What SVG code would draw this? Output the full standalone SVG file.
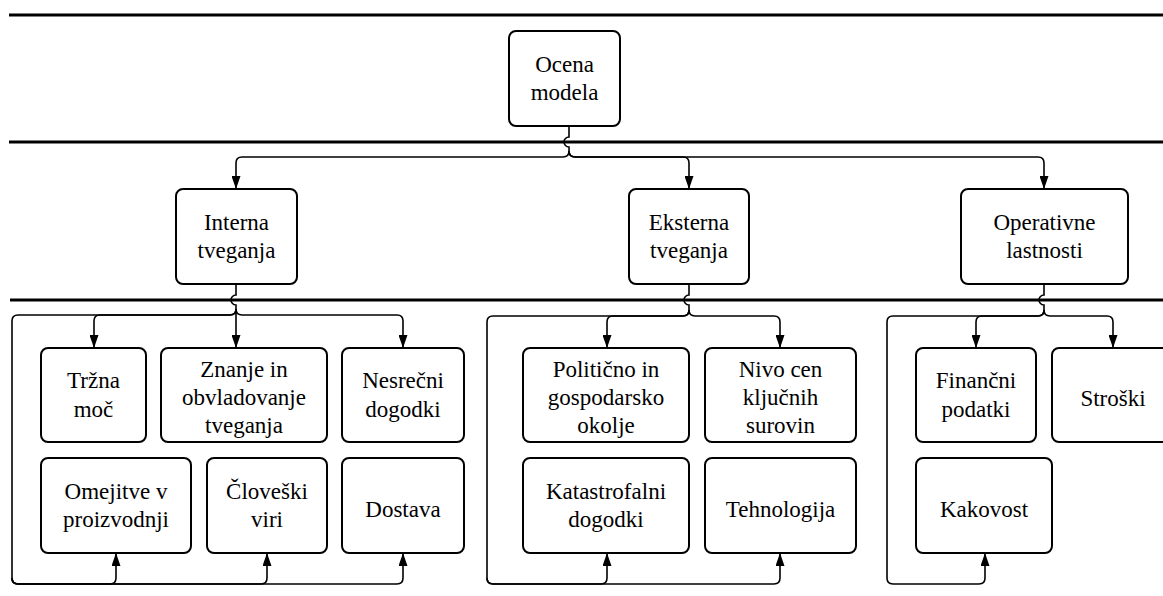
<svg xmlns="http://www.w3.org/2000/svg" width="1163" height="596" viewBox="0 0 1163 596">
<style>
.lane{stroke:#000;stroke-width:3;fill:none}
.box{fill:#fff;stroke:#000;stroke-width:2}
.c{fill:none;stroke:#000;stroke-width:1.6}
.a{marker-end:url(#arr)}
</style>
<defs>
<marker id="arr" markerUnits="userSpaceOnUse" markerWidth="13" markerHeight="9" refX="13" refY="4.5" orient="auto">
<path d="M0,0 L13,4.5 L0,9 z" fill="#000"/>
</marker>
</defs>
<rect width="1163" height="596" fill="#fff"/>
<g id="lanes">
<line class="lane" x1="9" y1="15" x2="1163" y2="15"/>
<line class="lane" x1="9" y1="142" x2="1163" y2="142"/>
<line class="lane" x1="10" y1="300" x2="1163" y2="300"/>
</g>
<g id="connectors">
<path class="c" d="M569,126 V137 A5,5 0 0 0 569,147 V151"/>
<path class="c a" d="M569,151 Q569,157 563,157 H242 Q236,157 236,163 V189"/>
<path class="c a" d="M569,151 Q569,157 575,157 H683 Q689,157 689,163 V189"/>
<path class="c a" d="M569,151 Q569,157 575,157 H1038 Q1044,157 1044,163 V189"/>
<path class="c a" d="M236,284 V295 A5,5 0 0 0 236,305 V348"/>
<path class="c a" d="M236,309 Q236,315 230,315 H100 Q94,315 94,321 V348"/>
<path class="c a" d="M236,309 Q236,315 242,315 H397 Q403,315 403,321 V348"/>
<path class="c a" d="M236,309 Q236,315 230,315 H18 Q12,315 12,321 V578 Q12,584 18,584 H110 Q116,584 116,578 V553"/>
<path class="c a" d="M12,578 Q12,584 18,584 H261 Q267,584 267,578 V553"/>
<path class="c a" d="M12,578 Q12,584 18,584 H397 Q403,584 403,578 V553"/>
<path class="c" d="M689,284 V295 A5,5 0 0 0 689,305 V310"/>
<path class="c a" d="M689,310 Q689,316 683,316 H613 Q607,316 607,322 V348"/>
<path class="c a" d="M689,310 Q689,316 695,316 H774 Q780,316 780,322 V348"/>
<path class="c a" d="M689,310 Q689,316 683,316 H493 Q487,316 487,322 V578 Q487,584 493,584 H601 Q607,584 607,578 V553"/>
<path class="c a" d="M487,578 Q487,584 493,584 H774 Q780,584 780,578 V553"/>
<path class="c" d="M1044,284 V295 A5,5 0 0 0 1044,305 V310"/>
<path class="c a" d="M1044,310 Q1044,316 1038,316 H982 Q976,316 976,322 V348"/>
<path class="c a" d="M1044,310 Q1044,316 1050,316 H1107 Q1113,316 1113,322 V348"/>
<path class="c a" d="M1044,310 Q1044,316 1038,316 H893 Q887,316 887,322 V578 Q887,584 893,584 H979 Q985,584 985,578 V553"/>
</g>
<g id="ocena"><rect class="box" x="509" y="31" width="111" height="95" rx="7"/><text style="font-family:'Liberation Serif';font-size:23px" text-anchor="middle" x="564.5" y="72">Ocena</text><text style="font-family:'Liberation Serif';font-size:23px" text-anchor="middle" x="564.5" y="100">modela</text></g>
<g id="interna"><rect class="box" x="176" y="189" width="121" height="95" rx="7"/><text style="font-family:'Liberation Serif';font-size:23px" text-anchor="middle" x="236.5" y="230">Interna</text><text style="font-family:'Liberation Serif';font-size:23px" text-anchor="middle" x="236.5" y="258">tveganja</text></g>
<g id="eksterna"><rect class="box" x="629" y="189" width="120" height="95" rx="7"/><text style="font-family:'Liberation Serif';font-size:23px" text-anchor="middle" x="689" y="230">Eksterna</text><text style="font-family:'Liberation Serif';font-size:23px" text-anchor="middle" x="689" y="258">tveganja</text></g>
<g id="operativne"><rect class="box" x="961" y="189" width="167" height="95" rx="7"/><text style="font-family:'Liberation Serif';font-size:23px" text-anchor="middle" x="1044.5" y="230">Operativne</text><text style="font-family:'Liberation Serif';font-size:23px" text-anchor="middle" x="1044.5" y="258">lastnosti</text></g>
<g id="trzna"><rect class="box" x="41" y="348" width="105" height="94" rx="7"/><text style="font-family:'Liberation Serif';font-size:23px" text-anchor="middle" x="93.5" y="388">Tržna</text><text style="font-family:'Liberation Serif';font-size:23px" text-anchor="middle" x="93.5" y="417">moč</text></g>
<g id="znanje"><rect class="box" x="161" y="348" width="166" height="94" rx="7"/><text style="font-family:'Liberation Serif';font-size:23px" text-anchor="middle" x="244" y="377">Znanje in</text><text style="font-family:'Liberation Serif';font-size:23px" text-anchor="middle" x="244" y="405">obvladovanje</text><text style="font-family:'Liberation Serif';font-size:23px" text-anchor="middle" x="244" y="433">tveganja</text></g>
<g id="nesrecni"><rect class="box" x="342" y="348" width="122" height="94" rx="7"/><text style="font-family:'Liberation Serif';font-size:23px" text-anchor="middle" x="403" y="388">Nesrečni</text><text style="font-family:'Liberation Serif';font-size:23px" text-anchor="middle" x="403" y="417">dogodki</text></g>
<g id="omejitve"><rect class="box" x="41" y="458" width="150" height="95" rx="7"/><text style="font-family:'Liberation Serif';font-size:23px" text-anchor="middle" x="116" y="499">Omejitve v</text><text style="font-family:'Liberation Serif';font-size:23px" text-anchor="middle" x="116" y="527">proizvodnji</text></g>
<g id="cloveski"><rect class="box" x="207" y="458" width="120" height="95" rx="7"/><text style="font-family:'Liberation Serif';font-size:23px" text-anchor="middle" x="267" y="499">Človeški</text><text style="font-family:'Liberation Serif';font-size:23px" text-anchor="middle" x="267" y="527">viri</text></g>
<g id="dostava"><rect class="box" x="342" y="458" width="122" height="95" rx="7"/><text style="font-family:'Liberation Serif';font-size:23px" text-anchor="middle" x="403" y="517">Dostava</text></g>
<g id="politicno"><rect class="box" x="523" y="348" width="166" height="94" rx="7"/><text style="font-family:'Liberation Serif';font-size:23px" text-anchor="middle" x="606" y="377">Politično in</text><text style="font-family:'Liberation Serif';font-size:23px" text-anchor="middle" x="606" y="405">gospodarsko</text><text style="font-family:'Liberation Serif';font-size:23px" text-anchor="middle" x="606" y="433">okolje</text></g>
<g id="nivo"><rect class="box" x="705" y="348" width="151" height="94" rx="7"/><text style="font-family:'Liberation Serif';font-size:23px" text-anchor="middle" x="780.5" y="377">Nivo cen</text><text style="font-family:'Liberation Serif';font-size:23px" text-anchor="middle" x="780.5" y="405">ključnih</text><text style="font-family:'Liberation Serif';font-size:23px" text-anchor="middle" x="780.5" y="433">surovin</text></g>
<g id="katastrofalni"><rect class="box" x="523" y="458" width="166" height="95" rx="7"/><text style="font-family:'Liberation Serif';font-size:23px" text-anchor="middle" x="606" y="499">Katastrofalni</text><text style="font-family:'Liberation Serif';font-size:23px" text-anchor="middle" x="606" y="527">dogodki</text></g>
<g id="tehnologija"><rect class="box" x="705" y="458" width="151" height="95" rx="7"/><text style="font-family:'Liberation Serif';font-size:23px" text-anchor="middle" x="780.5" y="517">Tehnologija</text></g>
<g id="financni"><rect class="box" x="916" y="348" width="120" height="94" rx="7"/><text style="font-family:'Liberation Serif';font-size:23px" text-anchor="middle" x="976" y="388">Finančni</text><text style="font-family:'Liberation Serif';font-size:23px" text-anchor="middle" x="976" y="417">podatki</text></g>
<g id="stroski"><rect class="box" x="1052" y="348" width="123" height="94" rx="7"/><text style="font-family:'Liberation Serif';font-size:23px" text-anchor="middle" x="1113" y="406">Stroški</text></g>
<g id="kakovost"><rect class="box" x="916" y="458" width="136" height="95" rx="7"/><text style="font-family:'Liberation Serif';font-size:23px" text-anchor="middle" x="984" y="517">Kakovost</text></g>
</svg>
